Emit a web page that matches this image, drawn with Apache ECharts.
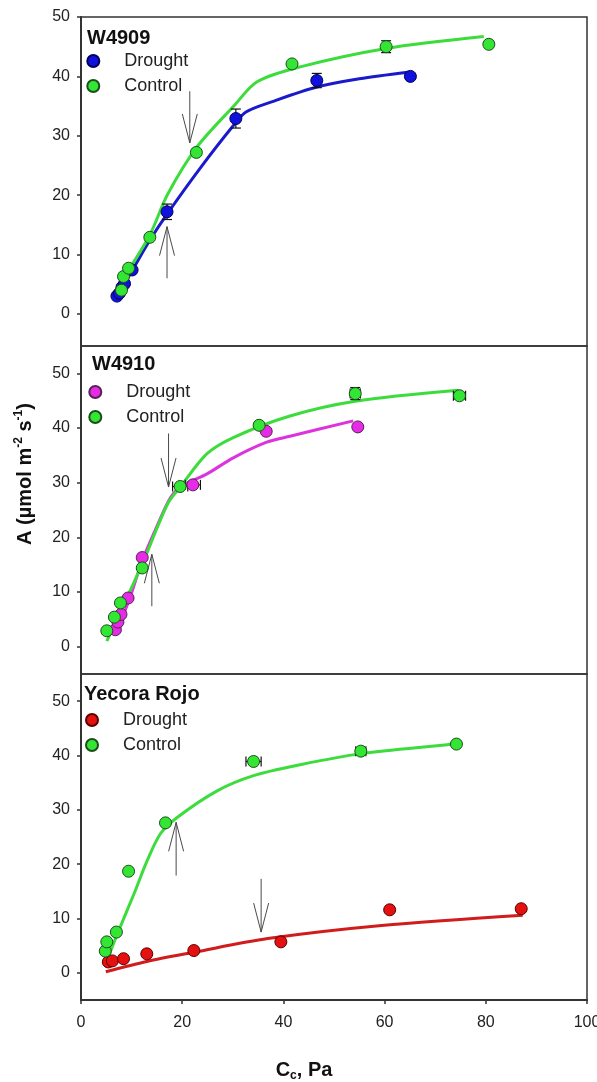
<!DOCTYPE html>
<html>
<head>
<meta charset="utf-8">
<title>A/Cc curves</title>
<script src="https://cdn.jsdelivr.net/npm/echarts@6/dist/echarts.min.js"></script>
<style>
  html, body { margin: 0; padding: 0; background: #fff; }
  #chart { width: 597px; height: 1082px; }
</style>
</head>
<body>
<div id="chart"></div>
<script>
// ---- data: [Cc (Pa), A (umol m-2 s-1)] ----
const xTicks = [0, 20, 40, 60, 80, 100];
const yTicks = [0, 10, 20, 30, 40, 50];

// W4909
const w4909DroughtPts = [[7.1,3.0],[7.6,3.5],[8.1,4.5],[8.6,5.1],[10.1,7.4],[17.0,17.2],[30.6,32.9],[46.6,39.3],[65.1,40.0]];
const w4909ControlPts = [[8.0,4.0],[8.4,6.3],[9.4,7.7],[13.6,12.9],[22.8,27.2],[41.7,42.1],[60.3,45.0],[80.6,45.4]];
const w4909DroughtFit = [[7.1,3.0],[10.1,7.3],[13.6,12.4],[17.0,16.8],[23.6,24.6],[30.0,31.6],[32.6,34.0],[38.0,35.8],[46.6,38.2],[55.0,39.6],[64.6,40.7]];
const w4909ControlFit = [[8.8,6.6],[13.6,13.3],[17.1,20.1],[23.0,28.2],[30.2,35.0],[34.8,39.1],[43.3,41.6],[60.3,44.7],[79.6,46.7]];
const w4909Err = [[17.0,17.2,0,1.3],[30.6,32.9,0,1.6],[46.6,39.3,0,1.2],[60.3,45.0,0,1.0]];   // [x, y, xErr, yErr]
const w4909Arrows = [[21.5,37.5,28.8],[17.0,6.0,14.7]];                                          // [x, tail, tip]

// W4910
const w4910DroughtPts = [[6.8,3.1],[7.3,4.5],[7.9,5.9],[9.3,8.9],[12.1,16.3],[22.1,29.6],[36.6,39.4],[54.7,40.2]];
const w4910ControlPts = [[5.1,2.9],[6.6,5.4],[7.8,8.0],[12.1,14.4],[19.6,29.3],[35.2,40.5],[54.2,46.3],[74.8,45.9]];
const w4910DroughtFit = [[7.5,4.0],[9.5,8.5],[12.1,15.7],[15.0,22.0],[17.7,27.3],[20.0,29.4],[24.9,31.6],[30.0,34.5],[36.7,37.4],[41.3,38.5],[53.8,41.3]];
const w4910ControlFit = [[5.1,1.0],[8.0,6.8],[12.1,15.1],[17.1,26.1],[19.7,29.3],[24.9,35.3],[30.2,38.3],[41.3,42.2],[54.2,44.9],[74.6,46.9]];
const w4910Err = [[19.6,29.3,1.5,0],[22.1,29.6,1.5,0],[54.2,46.3,1.0,1.1],[74.8,45.9,1.2,0.6]];
const w4910Arrows = [[17.3,39.0,29.2],[14.0,7.4,16.9]];

// Yecora Rojo
const yrDroughtPts = [[5.4,2.0],[6.2,2.2],[8.4,2.6],[13.0,3.5],[22.3,4.1],[39.5,5.7],[61.0,11.6],[87.0,11.8]];
const yrControlPts = [[4.8,4.0],[5.1,5.7],[7.0,7.5],[9.4,18.7],[16.7,27.6],[34.1,38.9],[55.3,40.8],[74.2,42.1]];
const yrDroughtFit = [[4.9,0.2],[13.0,2.1],[22.4,3.8],[36.9,6.3],[59.4,8.7],[87.3,10.6]];
const yrControlFit = [[4.9,1.7],[7.2,7.2],[10.5,14.6],[13.1,20.7],[15.7,25.6],[19.0,28.6],[26.9,33.5],[34.1,36.3],[43.3,38.3],[55.1,40.3],[74.1,42.1]];
const yrErr = [[34.1,38.9,1.5,0],[55.3,40.8,1.0,0]];
const yrArrows = [[18.8,17.9,27.7],[35.6,17.3,7.5]];

// ---- panel layout & styling ----
const FONT = "'Liberation Sans', Arial, sans-serif";
const AXIS_COLOR = '#333';
const panels = [
  { name: 'W4909', top: 17, height: 329, yMin: -5.4, yMax: 50,
    titlePos: [87, 26], legendPos: [86.3, 52],
    drought: w4909DroughtPts, control: w4909ControlPts, droughtFit: w4909DroughtFit, controlFit: w4909ControlFit,
    err: w4909Err, arrows: w4909Arrows,
    dColor: '#1111dd', dBorder: '#000055', dLine: '#1a1acc' },
  { name: 'W4910', top: 346, height: 328, yMin: -5, yMax: 55,
    titlePos: [92, 352], legendPos: [88.3, 383],
    drought: w4910DroughtPts, control: w4910ControlPts, droughtFit: w4910DroughtFit, controlFit: w4910ControlFit,
    err: w4910Err, arrows: w4910Arrows,
    dColor: '#e62ae6', dBorder: '#552255', dLine: '#dd33dd' },
  { name: 'Yecora Rojo', top: 674, height: 326, yMin: -5, yMax: 55,
    titlePos: [84, 682], legendPos: [85, 711],
    drought: yrDroughtPts, control: yrControlPts, droughtFit: yrDroughtFit, controlFit: yrControlFit,
    err: yrErr, arrows: yrArrows,
    dColor: '#e51010', dBorder: '#5a0000', dLine: '#d01c1c' }
];
const C_COLOR = '#33e633', C_BORDER = '#1d4d1d', C_LINE = '#3cdc3c';

function renderArrow(params, api) {
  const x = api.value(0);
  const tail = api.coord([x, api.value(1)]);
  const tip = api.coord([x, api.value(2)]);
  const dir = tail[1] > tip[1] ? 1 : -1;
  const by = tip[1] + dir * 29;
  const style = { stroke: '#4a4a4a', lineWidth: 1, fill: null };
  return {
    type: 'group',
    children: [
      { type: 'line', shape: { x1: tail[0], y1: tail[1], x2: tip[0], y2: tip[1] }, style },
      { type: 'polyline', shape: { points: [[tip[0] - 7.5, by], [tip[0], tip[1]], [tip[0] + 7.5, by]] }, style }
    ]
  };
}

function renderErr(params, api) {
  const x = api.value(0), y = api.value(1), ex = api.value(2), ey = api.value(3);
  const style = { stroke: '#111', lineWidth: 1.2, fill: null };
  const children = [];
  if (ey > 0) {
    const a = api.coord([x, y - ey]), b = api.coord([x, y + ey]);
    children.push({ type: 'line', shape: { x1: a[0], y1: a[1], x2: b[0], y2: b[1] }, style });
    children.push({ type: 'line', shape: { x1: a[0] - 5, y1: a[1], x2: a[0] + 5, y2: a[1] }, style });
    children.push({ type: 'line', shape: { x1: b[0] - 5, y1: b[1], x2: b[0] + 5, y2: b[1] }, style });
  }
  if (ex > 0) {
    const a = api.coord([x - ex, y]), b = api.coord([x + ex, y]);
    children.push({ type: 'line', shape: { x1: a[0], y1: a[1], x2: b[0], y2: b[1] }, style });
    children.push({ type: 'line', shape: { x1: a[0], y1: a[1] - 5, x2: a[0], y2: a[1] + 5 }, style });
    children.push({ type: 'line', shape: { x1: b[0], y1: b[1] - 5, x2: b[0], y2: b[1] + 5 }, style });
  }
  return { type: 'group', children };
}

const grid = [], xAxis = [], yAxis = [], series = [], legend = [], title = [];

panels.forEach((p, i) => {
  const last = i === panels.length - 1;
  grid.push({ left: 81, right: 10, top: p.top, height: p.height, show: true,
    borderColor: AXIS_COLOR, borderWidth: 1.5, backgroundColor: 'transparent',
    containLabel: false, outerBoundsMode: 'none' });

  xAxis.push({
    type: 'value', gridIndex: i, min: xTicks[0], max: xTicks[xTicks.length - 1], interval: 20,
    splitLine: { show: false },
    axisLine: { show: last, onZero: false, lineStyle: { color: AXIS_COLOR, width: 2 } },
    axisTick: { show: last, length: 4, lineStyle: { color: AXIS_COLOR, width: 1.5 } },
    axisLabel: { show: last, fontSize: 16, color: '#222', fontFamily: FONT, margin: 15, hideOverlap: false }
  });

  yAxis.push({
    type: 'value', gridIndex: i, min: p.yMin, max: p.yMax,
    splitLine: { show: false },
    axisLine: { show: true, onZero: false, lineStyle: { color: AXIS_COLOR, width: 2 } },
    axisTick: { show: true, length: 4, customValues: yTicks, lineStyle: { color: AXIS_COLOR, width: 1.5 } },
    axisLabel: { show: true, customValues: yTicks, fontSize: 16, color: '#222', fontFamily: FONT, margin: 11 }
  });

  const dName = p.name + ' Drought', cName = p.name + ' Control';

  series.push({ type: 'line', name: p.name + ' drought fit', xAxisIndex: i, yAxisIndex: i, data: p.droughtFit,
    showSymbol: false, smooth: 0.3, lineStyle: { color: p.dLine, width: 3 }, z: 2, silent: true });
  series.push({ type: 'line', name: p.name + ' control fit', xAxisIndex: i, yAxisIndex: i, data: p.controlFit,
    showSymbol: false, smooth: 0.3, lineStyle: { color: C_LINE, width: 3 }, z: 2, silent: true });
  series.push({ type: 'custom', name: p.name + ' error', xAxisIndex: i, yAxisIndex: i, data: p.err,
    renderItem: renderErr, encode: { x: 0, y: 1 }, z: 3, silent: true });
  series.push({ type: 'scatter', name: dName, xAxisIndex: i, yAxisIndex: i, data: p.drought, symbolSize: 12,
    itemStyle: { color: p.dColor, borderColor: p.dBorder, borderWidth: 1, opacity: 1 }, z: 4 });
  series.push({ type: 'scatter', name: cName, xAxisIndex: i, yAxisIndex: i, data: p.control, symbolSize: 12,
    itemStyle: { color: C_COLOR, borderColor: C_BORDER, borderWidth: 1, opacity: 1 }, z: 4 });
  series.push({ type: 'custom', name: p.name + ' arrows', xAxisIndex: i, yAxisIndex: i, data: p.arrows,
    renderItem: renderArrow, encode: { x: 0, y: [1, 2] }, z: 5, silent: true });

  legend.push({
    data: [dName, cName], orient: 'vertical', left: p.legendPos[0], top: p.legendPos[1],
    padding: 0, itemGap: 7, itemWidth: 12, itemHeight: 12, icon: 'circle', selectedMode: false,
    formatter: n => '{t|' + n.split(' ').pop() + '}',
    textStyle: { rich: { t: { fontSize: 18, color: '#222', fontFamily: FONT, padding: [0, 0, 0, 20] } } }
  });

  title.push({ text: p.name, left: p.titlePos[0], top: p.titlePos[1], padding: 0,
    textStyle: { fontSize: 20, fontWeight: 'bold', color: '#111', fontFamily: FONT, lineHeight: 24 } });
});

const option = {
  animation: false,
  backgroundColor: '#fff',
  title, grid, xAxis, yAxis, series, legend,
  graphic: [
    { type: 'text', x: 25, y: 474, rotation: Math.PI / 2,
      style: {
        text: '{b|A (\u00b5mol m}{s|-2}{b| s}{s|-1}{b|)}',
        align: 'center', verticalAlign: 'middle',
        rich: {
          b: { fontSize: 20, fontWeight: 'bold', fill: '#111', fontFamily: FONT, lineHeight: 24 },
          s: { fontSize: 12, fontWeight: 'bold', fill: '#111', fontFamily: FONT, lineHeight: 12, verticalAlign: 'top' }
        }
      } },
    { type: 'text', x: 304, y: 1070,
      style: {
        text: '{b|C}{s|c}{b|, Pa}',
        align: 'center', verticalAlign: 'middle',
        rich: {
          b: { fontSize: 20, fontWeight: 'bold', fill: '#111', fontFamily: FONT, lineHeight: 24 },
          s: { fontSize: 12, fontWeight: 'bold', fill: '#111', fontFamily: FONT, lineHeight: 12, verticalAlign: 'bottom' }
        }
      } }
  ]
};

const chart = echarts.init(document.getElementById('chart'), null, { renderer: 'canvas' });
chart.setOption(option);
</script>
</body>
</html>
